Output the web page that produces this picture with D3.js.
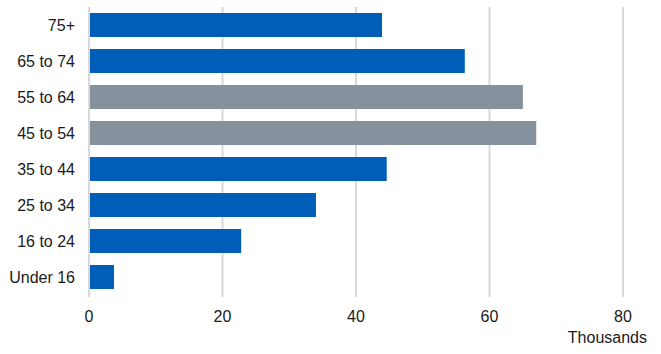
<!DOCTYPE html>
<html>
<head>
<meta charset="utf-8">
<script src="https://cdn.jsdelivr.net/npm/d3@7"></script>
<style>
  body { margin: 0; background: #fff; }
  text { font-family: "Liberation Sans", Arial, sans-serif; }
</style>
</head>
<body>
<script>
let w = 661;
let h = 354;

let categories = ["75+", "65 to 74", "55 to 64", "45 to 54", "35 to 44", "25 to 34", "16 to 24", "Under 16"];
let values = [43.9, 56.3, 65.0, 67.0, 44.6, 34.0, 22.8, 3.75];
let highlighted = ["55 to 64", "45 to 54"];
let xTicks = [0, 20, 40, 60, 80];

let dataset = categories.map((c, i) => ({key: c, value: values[i]}));

let xScale = d3.scaleLinear()
    .domain([0, 80])
    .range([89, 623])

let yScale = d3.scaleBand()
    .domain(categories)
    .range([7, 295])
    .paddingInner(1/3)
    .paddingOuter(1/6)

let svg = d3.select("body")
    .append("svg")
    .attr("width", w)
    .attr("height", h)

// gridlines
svg.selectAll("line.grid")
    .data(xTicks)
    .enter()
    .append("line")
    .attr("class", "grid")
    .attr("x1", d => xScale(d))
    .attr("x2", d => xScale(d))
    .attr("y1", 7)
    .attr("y2", 297)
    .attr("stroke", "#d9d9d9")
    .attr("stroke-width", 2)

svg.selectAll("rect")
    .data(dataset)
    .enter()
    .append("rect")
    .attr("x", xScale(0) + 1)
    .attr("y", d => yScale(d.key))
    .attr("width", d => xScale(d.value) - xScale(0) - 1)
    .attr("height", yScale.bandwidth())
    .attr("fill", d => highlighted.includes(d.key) ? "#85919c" : "#005eb8")

// category labels
svg.selectAll("text.cat")
    .data(categories)
    .enter()
    .append("text")
    .attr("class", "cat")
    .text(d => d)
    .attr("x", 75)
    .attr("y", d => yScale(d) + yScale.bandwidth() / 2)
    .attr("dy", "0.35em")
    .attr("text-anchor", "end")
    .attr("font-size", "16px")
    .attr("fill", "#1a1a1a")

// x tick labels
svg.selectAll("text.tick")
    .data(xTicks)
    .enter()
    .append("text")
    .attr("class", "tick")
    .text(d => d)
    .attr("x", d => xScale(d))
    .attr("y", 316)
    .attr("dy", "0.35em")
    .attr("text-anchor", "middle")
    .attr("font-size", "16px")
    .attr("fill", "#1a1a1a")

svg.append("text")
    .text("Thousands")
    .attr("x", 647)
    .attr("y", 337)
    .attr("dy", "0.35em")
    .attr("text-anchor", "end")
    .attr("font-size", "16px")
    .attr("fill", "#1a1a1a")
</script>
</body>
</html>
